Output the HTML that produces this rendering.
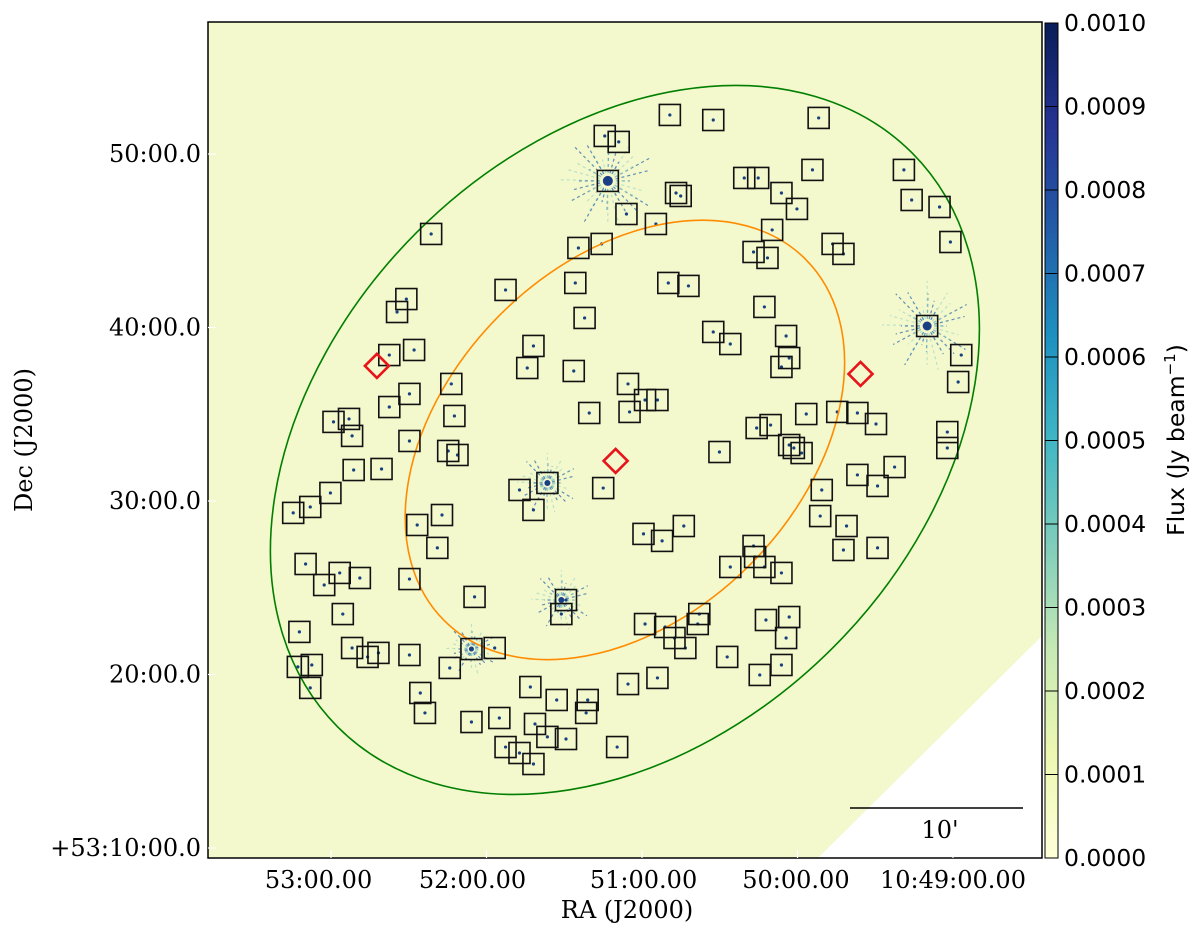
<!DOCTYPE html>
<html><head><meta charset="utf-8">
<style>
html,body{margin:0;padding:0;background:#fff;}
svg{display:block;}
.tk{font-family:"DejaVu Serif","Liberation Serif",serif;font-size:24px;fill:#000;}
.cb{font-family:"DejaVu Sans","Liberation Sans",sans-serif;font-size:23.5px;fill:#000;}
</style></head>
<body>
<svg id="chart" width="1200" height="934" viewBox="0 0 1200 934">
<defs>
<linearGradient id="ylgnbu" x1="0" y1="1" x2="0" y2="0">
<stop offset="0" stop-color="#ffffd9"/><stop offset="0.125" stop-color="#edf8b1"/>
<stop offset="0.25" stop-color="#c7e9b4"/><stop offset="0.375" stop-color="#7fcdbb"/>
<stop offset="0.5" stop-color="#41b6c4"/><stop offset="0.625" stop-color="#1d91c0"/>
<stop offset="0.75" stop-color="#225ea8"/><stop offset="0.875" stop-color="#253494"/>
<stop offset="1" stop-color="#081d58"/></linearGradient>
<clipPath id="imgclip"><rect x="208" y="22" width="834" height="836"/></clipPath>
</defs>
<g clip-path="url(#imgclip)">
<rect x="208" y="22" width="834" height="836" fill="#f3f8cd"/>
<polygon points="1042,636 1042,858 818,858" fill="#ffffff"/>
<g id="bursts"></g>
<g id="dots"></g>
<g id="ellipses"></g>
<g id="squares"></g>
<g id="diamonds"></g>
</g>
<rect x="208" y="22" width="834" height="836" fill="none" stroke="#000" stroke-width="1.5"/>
<line x1="850" y1="808" x2="1023" y2="808" stroke="#000" stroke-width="1.5"/>
<text x="940" y="838" class="tk" text-anchor="middle">10'</text>
<rect x="1045" y="23" width="13" height="835" fill="url(#ylgnbu)" stroke="#000" stroke-width="1"/>
<g id="axes"></g>
<text x="627" y="918" class="tk" text-anchor="middle">RA (J2000)</text>
<text transform="translate(32,440) rotate(-90)" class="tk" text-anchor="middle">Dec (J2000)</text>
<text transform="translate(1184,440) rotate(-90)" class="cb" font-size="22" text-anchor="middle">Flux (Jy beam<tspan baseline-shift="super" font-size="15">−1</tspan>)</text>
</svg>
<script>
// Source boxes: RA (minutes past 10h) and Dec (arcmin past +53°)
const boxRA=[50.73,50.45,49.77,51.15,51.06,51.13,51.01,50.82,50.69,50.66,50.25,50.16,50.01,49.91,49.81,49.22,49.17,48.99,48.92,50.07,50.19,50.10,49.68,49.61,52.27,51.32,51.17,51.34,51.79,50.74,50.61,52.43,52.49,51.28,50.12,50.45,50.34,49.98,49.96,50.01,51.61,51.65,51.35,52.54,52.38,51.00,50.89,50.81,50.99,51.25,52.54,52.41,52.14,52.12,52.90,52.80,52.78,52.41,52.16,52.10,52.59,52.77,52.92,53.05,53.16,51.52,51.70,51.61,51.16,50.17,50.08,49.85,49.65,49.52,49.40,50.41,49.96,49.93,49.88,49.52,49.39,49.28,49.75,49.76,49.59,49.61,49.39,48.94,48.94,49.07,48.85,48.87,52.36,52.20,52.23,50.90,50.78,50.64,50.19,50.18,50.12,50.34,50.01,53.08,52.86,52.73,52.96,52.41,52.84,53.12,53.13,53.04,53.05,52.78,52.68,52.61,52.41,52.15,52.01,51.86,51.99,51.40,51.43,50.89,50.76,50.70,50.63,50.55,50.54,50.11,49.96,49.98,50.36,50.15,50.01,52.34,52.31,52.01,51.83,51.63,51.46,51.26,51.27,51.00,50.81,51.79,51.70,51.60,51.52,51.61,51.40,51.07];
const boxDec=[52.06,51.77,51.89,50.86,50.52,48.29,46.40,45.83,47.60,47.43,48.46,48.46,47.60,46.69,48.92,48.92,47.20,46.80,44.80,45.49,44.23,43.89,44.69,44.12,45.26,44.46,44.69,42.46,42.06,42.46,42.29,41.54,40.80,40.46,41.09,39.66,38.97,39.43,38.17,37.66,38.86,37.60,37.43,38.34,38.63,36.69,35.77,35.77,35.09,35.03,35.37,36.12,36.69,34.86,34.52,34.69,33.72,33.43,32.86,32.63,31.83,31.77,30.46,29.66,29.32,31.03,30.63,29.49,30.74,34.17,34.34,34.97,35.09,35.03,34.40,32.80,33.20,33.03,32.74,31.49,30.86,31.94,30.63,29.14,28.57,27.20,27.32,33.94,33.03,40.00,38.34,36.80,28.63,29.20,27.32,28.12,27.72,28.57,27.43,26.80,26.23,26.23,25.89,26.40,25.89,25.60,25.20,25.54,23.54,22.52,20.52,20.63,19.32,21.60,21.09,21.32,21.20,20.46,21.54,21.60,24.52,24.34,23.54,22.97,22.80,22.17,21.60,22.97,23.54,23.20,23.37,22.17,21.09,20.06,20.63,19.03,17.89,17.37,17.60,19.37,18.63,18.63,17.89,19.54,19.89,15.94,15.60,17.26,16.52,14.97,16.40,15.94];
const diamondRA=[52.62,51.08,49.50];
const diamondDec=[37.72,32.29,37.26];
// bright sources with sidelobe patterns
const brightRA=[51.13,49.07,51.52,51.43,52.01,54.19];
const brightDec=[48.29,40.00,31.03,24.34,21.54,52.11];
const brightSize=[1.0,0.9,0.6,0.6,0.5,0.8];
const ellipseRA=[51.02,51.02];
const ellipseDec=[33.49,33.49];
const ellipseMajor=[23.2,14.6];
const ellipseMinor=[16.8,10.1];
const ellipseColor=['#007f00','#ff8c00'];
const decTicks=[50,40,30,20,10];
const decTickLabels=['50:00.0','40:00.0','30:00.0','20:00.0','+53:10:00.0'];
const raTicks=[53,52,51,50,49];
const raTickLabels=['53:00.00','52:00.00','51:00.00','50:00.00','10:49:00.00'];
const raLabelOffsetMin=[0.08,0.09,-0.01,0.01,0.0];
const cbTicks=[0,0.0001,0.0002,0.0003,0.0004,0.0005,0.0006,0.0007,0.0008,0.0009,0.0010];

const NS='http://www.w3.org/2000/svg';
function X(ra){return 318+(53-ra)*155;}
function Y(dec){return 851-(dec-10)*17.5;}
function AX(ra){return 331+(53-ra)*155.5;}
function AY(dec){return 154+(50-dec)*17.35;}
function CY(v){return 858-v/0.001*835;}
const PX=17.5;
function mk(tag,attrs,parent){const e=document.createElementNS(NS,tag);for(const k in attrs)e.setAttribute(k,attrs[k]);parent.appendChild(e);return e;}

const gB=document.getElementById('bursts');
for(let i=0;i<brightRA.length;i++){
  const cx=X(brightRA[i]),cy=Y(brightDec[i]),s=brightSize[i];
  const g=mk('g',{},gB);
  
  
  for(let k=0;k<36;k++){
    const a=k*Math.PI/18+0.1*(k%3),r1=8*s,r2=(22+((k*7)%5)*7)*s;
    mk('line',{x1:cx+r1*Math.cos(a),y1:cy+r1*Math.sin(a),x2:cx+r2*Math.cos(a),y2:cy+r2*Math.sin(a),stroke:(k%2?'#a8dcc4':'#2f6fae'),'stroke-width':1.2,'stroke-dasharray':'3 3',opacity:0.75},g);
  }
  mk('circle',{cx:cx,cy:cy,r:5*s,fill:'#1b3f86'},g);
}
mk('ellipse',{cx:X(54.19),cy:Y(52.11),rx:12,ry:6,fill:'#0b2a6a'},gB);

const gD=document.getElementById('dots');
for(let i=0;i<boxRA.length;i++){
  const d=mk('circle',{cx:X(boxRA[i]),cy:Y(boxDec[i]),r:1.6,fill:'#17407f'},gD);
  
  
}

const gE=document.getElementById('ellipses');
for(let i=0;i<ellipseRA.length;i++){
  const cx=X(ellipseRA[i]),cy=Y(ellipseDec[i]);
  const e=mk('ellipse',{cx:cx,cy:cy,rx:ellipseMajor[i]*PX,ry:ellipseMinor[i]*PX,fill:'none',stroke:ellipseColor[i],'stroke-width':1.6,transform:'rotate(-45 '+cx+' '+cy+')'},gE);
  
  
}

const gS=document.getElementById('squares');
for(let i=0;i<boxRA.length;i++){
  const r=mk('rect',{x:X(boxRA[i])-10.5,y:Y(boxDec[i])-10.5,width:21,height:21,fill:'none',stroke:'#111','stroke-width':1.6},gS);
  
  
}

const gM=document.getElementById('diamonds');
for(let i=0;i<diamondRA.length;i++){
  const cx=X(diamondRA[i]),cy=Y(diamondDec[i]);
  const p=mk('polygon',{points:`${cx},${cy-12} ${cx+12},${cy} ${cx},${cy+12} ${cx-12},${cy}`,fill:'none',stroke:'#e8141a','stroke-width':2.6},gM);
  
  
}

const gA=document.getElementById('axes');
for(let i=0;i<decTicks.length;i++){
  const y=AY(decTicks[i]);
  const l=mk('line',{x1:208,y1:y,x2:216,y2:y,stroke:'#fff','stroke-width':1.2},gA);
  
  
  const t=mk('text',{x:201,y:y+8,class:'tk','text-anchor':'end'},gA);
  t.textContent=decTickLabels[i];
  
  
}
for(let i=0;i<raTicks.length;i++){
  const x=AX(raTicks[i]);
  const l=mk('line',{x1:x,y1:858,x2:x,y2:850,stroke:'#fff','stroke-width':1.2},gA);
  
  
  const t=mk('text',{x:AX(raTicks[i]+raLabelOffsetMin[i]),y:888,class:'tk','text-anchor':'middle'},gA);
  t.textContent=raTickLabels[i];
  
  
}
for(let i=0;i<cbTicks.length;i++){
  const y=CY(cbTicks[i]);
  const l=mk('line',{x1:1045,y1:y,x2:1058,y2:y,stroke:'#000','stroke-width':1},gA);
  
  
  const t=mk('text',{x:1064,y:y+8,class:'cb'},gA);
  t.textContent=cbTicks[i].toFixed(4);
  
  
}
</script>
</body></html>
